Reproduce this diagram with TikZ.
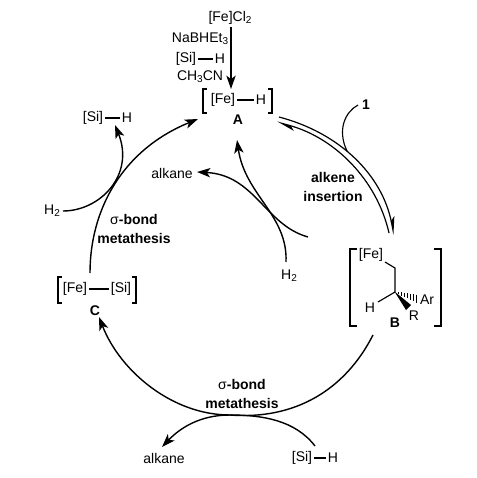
\documentclass[tikz,border=0pt]{standalone}
\usepackage{fontspec}
\setmainfont{Liberation Sans}
\usetikzlibrary{arrows.meta,calc}
\newcommand{\subs}[1]{\raisebox{-0.28ex}{\fontsize{7.5}{8}\selectfont #1}}
\tikzset{
  lbl/.style={inner sep=0pt,font=\fontsize{10.5}{12}\selectfont},
  blbl/.style={inner sep=0pt,font=\fontsize{10.5}{12}\selectfont\bfseries,align=center},
  curve/.style={line width=1.05pt},
  bond/.style={line width=0.8pt,shorten <=1.5pt,shorten >=1.5pt},
  bracket/.style={line width=1.2pt},
  head/.style={-{Stealth[length=10pt,width=7pt,inset=2.6pt]}},
  harpU/.style={-{Stealth[harpoon,length=12pt,width=6pt,inset=3pt]}}
}
\begin{document}
\begin{tikzpicture}[x=0.75pt,y=-0.75pt]
\useasboundingbox (0,0) rectangle (477,478);
% reagents
\node[lbl] (fecl) at (230,18) {[Fe]Cl\subs{2}};
\node[lbl] (nab) at (200,39) {NaBHEt\subs{3}};
\node[lbl] (si0) at (186,59) {[Si]};
\node[lbl] (h0) at (220,59) {H};
\draw[bond] (si0) -- (h0);
\node[lbl] (ch) at (200,77) {CH\subs{3}CN};
% A
\node[lbl] (feA) at (223,100) {[Fe]};
\node[lbl] (hA) at (261,100) {H};
\draw[bond] (feA) -- (hA);
\node[blbl] (A) at (238,120) {A};
\coordinate (aL1) at (203,89); \coordinate (aL2) at (203,113);
\coordinate (aR1) at (272,89); \coordinate (aR2) at (272,113);
\draw[bracket] ([xshift=3]aL1) -- (aL1) -- (aL2) -- ([xshift=3]aL2);
\draw[bracket] ([xshift=-3]aR1) -- (aR1) -- (aR2) -- ([xshift=-3]aR2);
\coordinate (feclB) at (231,27);
\coordinate (aT) at (231,89);
\draw[curve,head] (feclB) -- (aT);
% B
\node[lbl] (feB) at (371,255) {[Fe]};
\coordinate (b1) at (385,262);
\coordinate (b2) at (395,268);
\coordinate (b3) at (395,292);
\node[lbl] (hB) at (370,308) {H};
\node[lbl] (ar) at (427,300) {Ar};
\node[lbl] (rB) at (414,316) {R};
\node[blbl] (B) at (395,323) {B};
\draw[line width=0.85pt,line join=round] (b1) -- (b2) -- (b3) -- (378,302);
\fill ($(b3)+(-0.6,-0.6)$) -- (411,305) -- (406,310) -- cycle;
\foreach \t in {0.14,0.28,0.42,0.56,0.70,0.84,0.98}
  \draw[line width=0.55pt] ($(395,292)!\t!(417,299)+(0,{-0.6-3.4*\t})$) -- ($(395,292)!\t!(417,299)+(0,{0.6+3.4*\t})$);
\coordinate (bL1) at (350,249); \coordinate (bL2) at (350,326);
\coordinate (bR1) at (441,249); \coordinate (bR2) at (441,326);
\draw[bracket] ([xshift=5]bL1) -- (bL1) -- (bL2) -- ([xshift=5]bL2);
\draw[bracket] ([xshift=-5]bR1) -- (bR1) -- (bR2) -- ([xshift=-5]bR2);
% C
\node[lbl] (feC) at (75,289) {[Fe]};
\node[lbl] (siC) at (121,289) {[Si]};
\draw[bond] (feC) -- (siC);
\node[blbl] (C) at (95,311) {C};
\coordinate (cL1) at (58,277); \coordinate (cL2) at (58,303);
\coordinate (cR1) at (136,277); \coordinate (cR2) at (136,303);
\draw[bracket] ([xshift=3]cL1) -- (cL1) -- (cL2) -- ([xshift=3]cL2);
\draw[bracket] ([xshift=-3]cR1) -- (cR1) -- (cR2) -- ([xshift=-3]cR2);
% labels
\node[blbl] (one) at (366,105) {1};
\node[blbl] (ins) at (333,187) {alkene\\[2pt]insertion};
\node[blbl] (m1) at (134,229) {{\normalfont σ}-bond\\[2pt]metathesis};
\node[blbl] (m2) at (242,394) {{\normalfont σ}-bond\\[2pt]metathesis};
\node[lbl] (sitop) at (93,118) {[Si]};
\node[lbl] (htop) at (127,118) {H};
\draw[bond] (sitop) -- (htop);
\node[lbl] (h2l) at (52,211) {H\subs{2}};
\node[lbl] (alkT) at (172,173) {alkane};
\node[lbl] (h2r) at (289,276) {H\subs{2}};
\node[lbl] (alkB) at (164,458) {alkane};
\node[lbl] (siB) at (302,458) {[Si]};
\node[lbl] (hB2) at (333,458) {H};
\draw[bond] (siB) -- (hB2);
% coordinates for curves
\coordinate (ab1) at (279,117);
\coordinate (ab2) at (394,235);
\coordinate (ab3) at (389,233);
\coordinate (ab4) at (277,122);
\coordinate (bc0) at (373,335);
\coordinate (bot) at (230,415);
\coordinate (bc1) at (99,317);
\coordinate (ca0) at (90,273);
\coordinate (ca1) at (198,119);
\coordinate (h2s) at (63,211);
\coordinate (sit) at (115,125);
\coordinate (as) at (308,237);
\coordinate (at) at (197,172);
\coordinate (hs) at (286,262);
\coordinate (ht) at (237,140);
\coordinate (sb) at (315,446);
\coordinate (ab) at (162,447);
\coordinate (ones) at (358,105);
\coordinate (onee) at (347,151);
% arcs
\draw[line width=0.9pt,harpU] (ab1) .. controls (340,133) and (382,175) .. (ab2);
\draw[line width=0.9pt,harpU] (ab3) .. controls (377,180) and (335,138) .. (ab4);
\draw[curve,head] (bc0) .. controls (345,390) and (295,420) .. (bot) .. controls (172,415) and (120,371) .. (bc1);
\draw[curve,head] (ca0) .. controls (90,210) and (122,150) .. (ca1);
\draw[curve,head] (h2s) .. controls (100,211) and (135,175) .. (sit);
\draw[curve,head] (as) .. controls (265,225) and (255,175) .. (at);
\draw[curve,head] (hs) .. controls (288,215) and (245,195) .. (ht);
\draw[curve,head] (sb) .. controls (295,420) and (262,415) .. (230,415) .. controls (200,415) and (180,428) .. (ab);
\draw[line width=0.85pt] (ones) .. controls (345,112) and (337,130) .. (onee);
\end{tikzpicture}
\end{document}
